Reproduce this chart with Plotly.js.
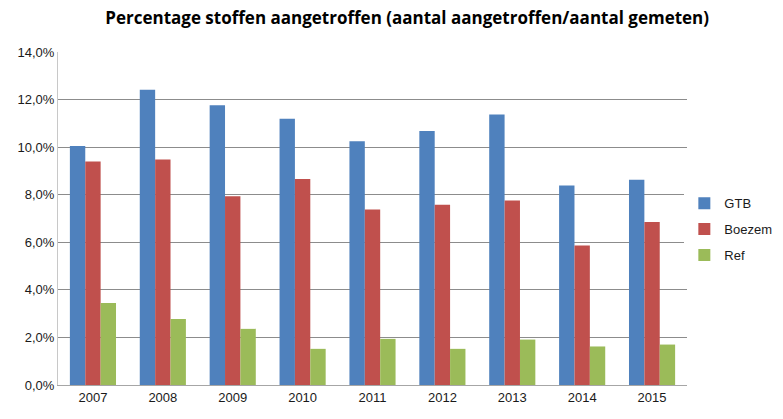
<!DOCTYPE html>
<html>
<head>
<meta charset="utf-8">
<script src="https://cdn.plot.ly/plotly-3.0.1.min.js"></script>
<style>html,body{margin:0;padding:0;background:#fff;}#chart{width:783px;height:419px;}</style>
</head>
<body>
<div id="chart"></div>
<script>
const years = ["2007","2008","2009","2010","2011","2012","2013","2014","2015"];
const gtb    = [10.05, 12.41, 11.76, 11.19, 10.25, 10.68, 11.37, 8.39, 8.63];
const boezem = [9.40, 9.48, 7.94, 8.66, 7.38, 7.58, 7.76, 5.86, 6.85];
const ref    = [3.45, 2.78, 2.36, 1.52, 1.94, 1.52, 1.91, 1.62, 1.70];
const seriesNames = ["GTB", "Boezem", "Ref"];
const colors = ["#4F81BD", "#C0504D", "#9BBB59"];

const traces = [gtb, boezem, ref].map((v, i) => ({
  type: "bar", x: years, y: v, name: seriesNames[i], legendgroup: "g" + i,
  marker: {color: colors[i]}, hoverinfo: "skip"
}));

const layout = {
  width: 783, height: 419,
  margin: {l: 58, r: 96, t: 52, b: 34, autoexpand: false},
  paper_bgcolor: "#fff", plot_bgcolor: "#fff",
  separators: ",.",
  font: {family: "Liberation Sans, Arial, sans-serif", size: 13, color: "#1a1a1a"},
  title: {text: "Percentage stoffen aangetroffen (aantal aangetroffen/aantal gemeten)",
          font: {family: "Open Sans, Liberation Sans, sans-serif", size: 17, color: "#000", weight: "bold"},
          xref: "container", x: 0.52, xanchor: "center", yref: "container", y: 0.958, yanchor: "middle"},
  barmode: "group", bargap: 0.34, bargroupgap: 0,
  xaxis: {type: "category", showgrid: false, showline: true, linecolor: "#A6A6A6", linewidth: 1,
          ticks: "", tickfont: {size: 13}, zeroline: false},
  yaxis: {range: [0, 14], dtick: 2, tickformat: ".1f", ticksuffix: "%",
          showgrid: true, gridcolor: "#8C8C8C", gridwidth: 1,
          showline: true, linecolor: "#C8C8C8", zeroline: false,
          ticks: "", tickfont: {size: 13}},
  legend: {xref: "container", yref: "container", x: 0.874, xanchor: "left", y: 0.453, yanchor: "middle",
           font: {size: 13}, tracegroupgap: 6, itemwidth: 30},
  showlegend: true
};
Plotly.newPlot("chart", traces, layout, {displayModeBar: false, staticPlot: true});
</script>
</body>
</html>
